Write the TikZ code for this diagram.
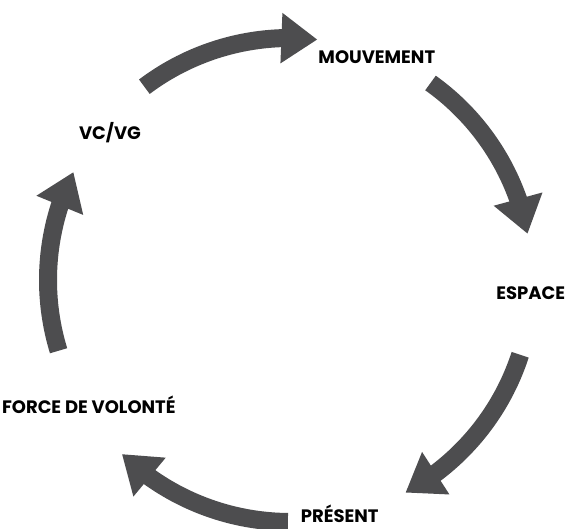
\documentclass[tikz,border=0pt]{standalone}
\usepackage{fontspec}
\setmainfont{Poppins}
\usetikzlibrary{arrows.meta, bending}
\definecolor{arrowgrey}{RGB}{77,77,79}

\begin{document}
\begin{tikzpicture}[x=1pt, y=1pt, every node/.style={font=\fontsize{18}{20}\selectfont\bfseries, inner sep=0pt, text height=12.6pt, text depth=0pt}]

            \useasboundingbox (-290,-249) rectangle (277,280);

            \def\radius{242}

            \foreach \i in {0,...,4} {
                \pgfmathsetmacro{\start}{127-\i*72.5}
                \pgfmathsetmacro{\stop}{\start-43.5}
                \coordinate (T\i) at (\start:\radius);
                \draw[-{Triangle[length=36pt, width=48pt]}, line width=18pt, arrowgrey]
                    (T\i) arc[start angle=\start, end angle=\stop, radius=\radius];
            }

            \node (mouvement) at (68.7:239) {MOUVEMENT};
            \node (espace) at (-3.1:241) {ESPACE};
            \node (present) at (-78.1:241) {PRÉSENT};
            \node (force) at (-147.7:238) {FORCE DE VOLONTÉ};
            \node (vcvg) at (140.9:232) {VC/VG};
        \end{tikzpicture}
\end{document}
